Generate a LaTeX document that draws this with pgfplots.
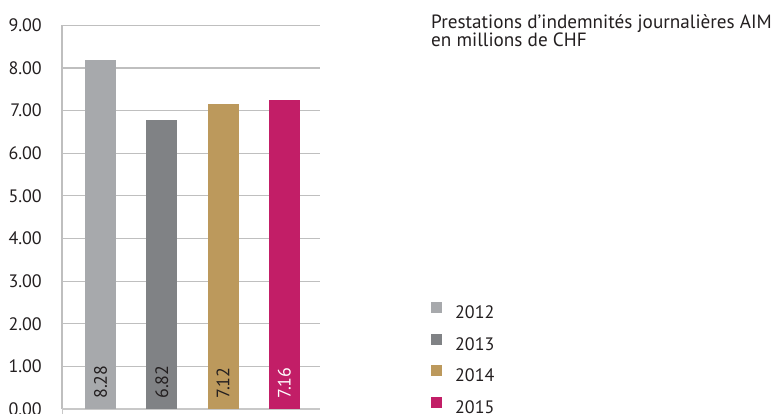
\documentclass[border=0pt]{standalone}
\usepackage{pgfplots}
\pgfplotsset{compat=1.18}
\usepackage{fontspec}
\setmainfont{PT Sans}

\definecolor{cA}{HTML}{A7A9AC}
\definecolor{cB}{HTML}{808285}
\definecolor{cC}{HTML}{BC995C}
\definecolor{cD}{HTML}{C21E67}
\definecolor{txt}{HTML}{231F20}
\definecolor{grid}{HTML}{C8C8C8}

\begin{document}
\begin{tikzpicture}
\path[use as bounding box] (0,0) rectangle (771bp,414bp);
\begin{axis}[
    at={(62bp,5bp)}, anchor=south west,
    width=258bp, height=383.7bp, scale only axis,
    ybar, bar width=31bp, bar shift=0pt,
    xmin=-0.628, xmax=3.58,
    ymin=0, ymax=9,
    ytick={0,1,...,9},
    yticklabel style={/pgf/number format/fixed, /pgf/number format/fixed zerofill,
        /pgf/number format/precision=2, /pgf/number format/assume math mode=true,
        font=\fontsize{18bp}{18bp}\selectfont, text=txt, inner sep=0pt, xshift=-15bp},
    ymajorgrids, grid style={grid, line width=1.2bp},
    axis x line*=bottom, axis y line*=left,
    y axis line style={draw=none},
    x axis line style={grid, line width=1.2bp},
    xtick={-0.628}, xticklabels={},
    major tick length=5bp, tick align=outside,
    xtick style={grid, line width=1bp},
    ytick style={draw=none},
    legend style={at={(1.43,0.279)}, anchor=north west, draw=none, fill=none,
        inner sep=0pt, row sep=15bp,
        font=\fontsize{18bp}{18bp}\selectfont, text=txt,
        nodes={inner sep=0pt, text height=11bp, text depth=0pt}},
    legend cell align=left,
    legend image code/.code={\fill[#1, draw=none] (0bp,0bp) rectangle (11bp,11bp);
        \path[draw=none, fill=none] (0bp,0bp) rectangle (24bp,11bp);},
]
\addplot[fill=cA, draw=none] coordinates {(0,8.18)};
\addplot[fill=cB, draw=none] coordinates {(1,6.78)};
\addplot[fill=cC, draw=none] coordinates {(2,7.15)};
\addplot[fill=cD, draw=none] coordinates {(3,7.24)};
\legend{2012,2013,2014,2015}

\addplot[forget plot, draw=none, mark=none, nodes near coords, point meta=explicit symbolic,
    nodes near coords style={yshift=10bp, rotate=90, anchor=west, inner sep=0pt,
        font=\fontsize{18bp}{18bp}\selectfont, text=txt}]
    coordinates {(0,0) [8.28] (1,0) [6.82] (2,0) [7.12]};
\addplot[forget plot, draw=none, mark=none, nodes near coords, point meta=explicit symbolic,
    nodes near coords style={yshift=10bp, rotate=90, anchor=west, inner sep=0pt,
        font=\fontsize{18bp}{18bp}\selectfont, text=white}]
    coordinates {(3,0) [7.16]};
\end{axis}
\node[anchor=base west, inner sep=0pt, align=left, text=txt,
      font=\fontsize{19.2bp}{18bp}\selectfont] at (431bp,367bp)
    {Prestations d’indemnités journalières AIM\\en millions de CHF};
\end{tikzpicture}
\end{document}
